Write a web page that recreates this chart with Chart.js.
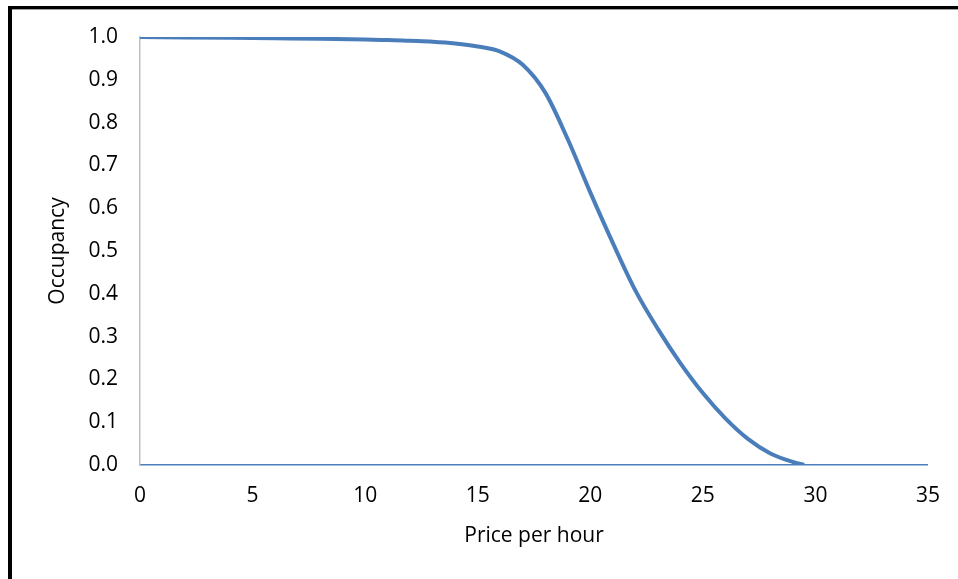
<!DOCTYPE html>
<html>
<head>
<meta charset="UTF-8">
<script src="https://cdn.jsdelivr.net/npm/chart.js@4"></script>
<style>
    html, body { margin: 0; padding: 0; background: #fff; }
    #wrap  { position: relative; width: 958px; height: 579px; overflow: hidden; }
    #frame { position: absolute; left: 8px; top: 6px; right: -20px; bottom: -20px;
             border-top: 3px solid #000; border-left: 4px solid #000; pointer-events: none; }
    #frameShade { position: absolute; left: 12px; top: 9px; right: 0; height: 1px; background: #a0a0a0; }
</style>
</head>
<body>
<div id="wrap">
    <canvas id="occupancyChart" width="958" height="579"></canvas>
    <div id="frame"></div>
    <div id="frameShade"></div>
</div>
<script>
// price per hour vs occupancy
const prices    = [0, 2, 4, 6, 8, 10, 11, 12, 13, 14, 15, 16, 17, 18, 19, 20, 21, 22, 23, 24, 25, 26, 27, 28, 29, 29.5];
const occupancy = [1.0, 0.999, 0.998, 0.997, 0.996, 0.994, 0.993, 0.991, 0.989, 0.985, 0.978, 0.966, 0.935, 0.87,
                   0.761, 0.637, 0.519, 0.408, 0.318, 0.238, 0.168, 0.109, 0.061, 0.027, 0.007, 0.0];
const xTicks = [0, 5, 10, 15, 20, 25, 30, 35];

const font = { family: '"Open Sans", Lato, sans-serif', size: 21 };
const ctx  = document.getElementById('occupancyChart').getContext('2d');

new Chart(ctx, {
    type: 'line',
    data: {
        datasets: [{
            data: prices.map((p, i) => ({ x: p, y: occupancy[i] })),
            borderColor: '#4a7ebb',
            borderWidth: 4,
            pointRadius: 0,
            cubicInterpolationMode: 'monotone',
            fill: false
        }]
    },
    options: {
        responsive: false,
        animation: false,
        layout: { padding: { left: 0, right: 30, top: 37, bottom: 0 } },
        plugins: { legend: { display: false }, tooltip: { enabled: false } },
        scales: {
            x: {
                type: 'linear',
                min: 0, max: 35,
                afterBuildTicks: scale => { scale.ticks = xTicks.map(v => ({ value: v })); },
                afterFit: scale => { scale.height = 114; },
                grid: { display: true, drawOnChartArea: false, drawTicks: false, color: 'rgba(0,0,0,0)' },
                border: { display: true, color: '#4a7ebb', width: 1.5 },
                ticks: { color: '#000', font: font, padding: 18, maxRotation: 0 },
                title: { display: true, text: 'Price per hour', color: '#000', font: font,
                         padding: { top: 30, bottom: 30 } }
            },
            y: {
                min: 0, max: 1,
                afterFit: scale => { scale.width = 140; },
                grid: { display: true, drawOnChartArea: false, drawTicks: false, color: 'rgba(0,0,0,0)' },
                border: { display: true, color: '#bfbfbf', width: 1.5 },
                ticks: { color: '#000', font: font, padding: 22, stepSize: 0.1,
                         callback: v => v.toFixed(1) },
                title: { display: true, text: 'Occupancy', color: '#000', font: font,
                         padding: { top: 45, bottom: 45 } }
            }
        }
    }
});
</script>
</body>
</html>
